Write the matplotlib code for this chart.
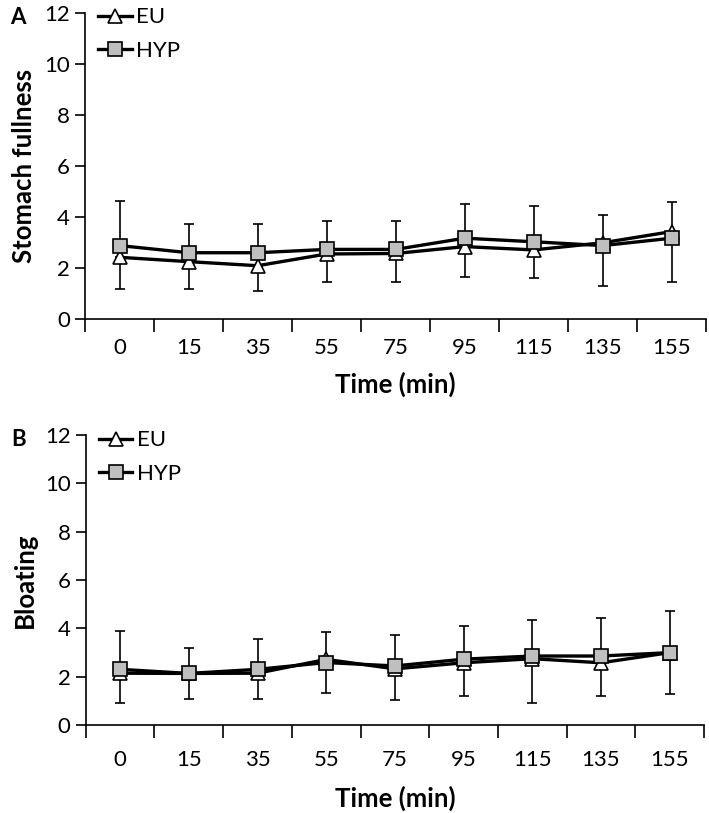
import matplotlib

matplotlib.use("Agg")
import matplotlib.pyplot as plt
import numpy as np

plt.rcParams["font.family"] = ["Lato", "DejaVu Sans"]

TIMES = ["0", "15", "35", "55", "75", "95", "115", "135", "155"]

# Panel A: stomach fullness
FULL_EU = [2.41, 2.24, 2.08, 2.54, 2.56, 2.83, 2.70, 2.98, 3.42]
FULL_HYP = [2.87, 2.59, 2.59, 2.72, 2.72, 3.16, 3.02, 2.87, 3.16]
FULL_TOP = [4.63, 3.70, 3.70, 3.84, 3.84, 4.50, 4.41, 4.08, 4.60]
FULL_BOTTOM = [1.17, 1.17, 1.08, 1.43, 1.43, 1.64, 1.60, 1.28, 1.45]

# Panel B: bloating
BLOAT_EU = [2.15, 2.14, 2.15, 2.72, 2.33, 2.58, 2.75, 2.58, 3.00]
BLOAT_HYP = [2.31, 2.14, 2.31, 2.59, 2.45, 2.73, 2.86, 2.86, 3.00]
BLOAT_TOP = [3.90, 3.21, 3.56, 3.85, 3.71, 4.10, 4.33, 4.43, 4.73]
BLOAT_BOTTOM = [0.93, 1.08, 1.08, 1.34, 1.04, 1.20, 0.93, 1.20, 1.29]


def draw(ax, eu, hyp, top, bottom, ylabel, tag, xpad, lpad):
    x = np.arange(len(TIMES))
    hyp = np.array(hyp)
    eu = np.array(eu)
    # upper bar from HYP, lower bar from EU
    ax.errorbar(x, hyp, yerr=[np.zeros_like(hyp), np.array(top) - hyp], fmt="none",
                ecolor="black", elinewidth=1.2, capsize=3.8, capthick=1.2, zorder=1)
    ax.errorbar(x, eu, yerr=[eu - np.array(bottom), np.zeros_like(eu)], fmt="none",
                ecolor="black", elinewidth=1.2, capsize=3.8, capthick=1.2, zorder=1)
    ax.plot(x, eu, color="black", linewidth=2.4, marker="^", markersize=10,
            markerfacecolor="white", markeredgecolor="black", markeredgewidth=1.2,
            label="EU", zorder=3)
    ax.plot(x, hyp, color="black", linewidth=2.4, marker="s", markersize=10.5,
            markerfacecolor="#bfbfbf", markeredgecolor="black", markeredgewidth=1.2,
            label="HYP", zorder=4)

    ax.set_xlim(-0.5, len(TIMES) - 0.5)
    ax.set_ylim(0, 12)
    ax.set_yticks(range(0, 13, 2))
    ax.set_xticks(x)
    ax.set_xticklabels(TIMES)
    ax.set_xticks(np.arange(len(TIMES) + 1) - 0.5, minor=True)
    ax.tick_params(axis="x", which="major", length=0, labelsize=16, pad=xpad)
    ax.tick_params(axis="x", which="minor", length=9, width=1.2, direction="out")
    ax.tick_params(axis="y", length=7, width=1.2, labelsize=16, pad=4)
    for side in ("top", "right"):
        ax.spines[side].set_visible(False)
    for side in ("left", "bottom"):
        ax.spines[side].set_linewidth(1.2)
    ax.set_ylabel(ylabel, fontsize=18.5, fontweight="bold", labelpad=6)
    ax.set_xlabel("Time (min)", fontsize=18.5, fontweight="bold", labelpad=lpad)
    ax.legend(loc="upper left", bbox_to_anchor=(0.0, 1.062), frameon=False,
              fontsize=16, handlelength=1.5, handletextpad=0.2, labelspacing=0.6,
              borderaxespad=0.2)
    ax.text(-0.12, 0.985, tag, transform=ax.transAxes, fontsize=16, fontweight="bold",
            ha="left", va="center")


fig = plt.figure(figsize=(7.09, 8.13), dpi=100)
ax_a = fig.add_axes([0.120, 0.608, 0.876, 0.376])
ax_b = fig.add_axes([0.121, 0.108, 0.872, 0.357])

draw(ax_a, FULL_EU, FULL_HYP, FULL_TOP, FULL_BOTTOM, "Stomach fullness", "A", 14, 10)
draw(ax_b, BLOAT_EU, BLOAT_HYP, BLOAT_TOP, BLOAT_BOTTOM, "Bloating", "B", 18, 11)

fig.savefig("out.png", dpi=100)
